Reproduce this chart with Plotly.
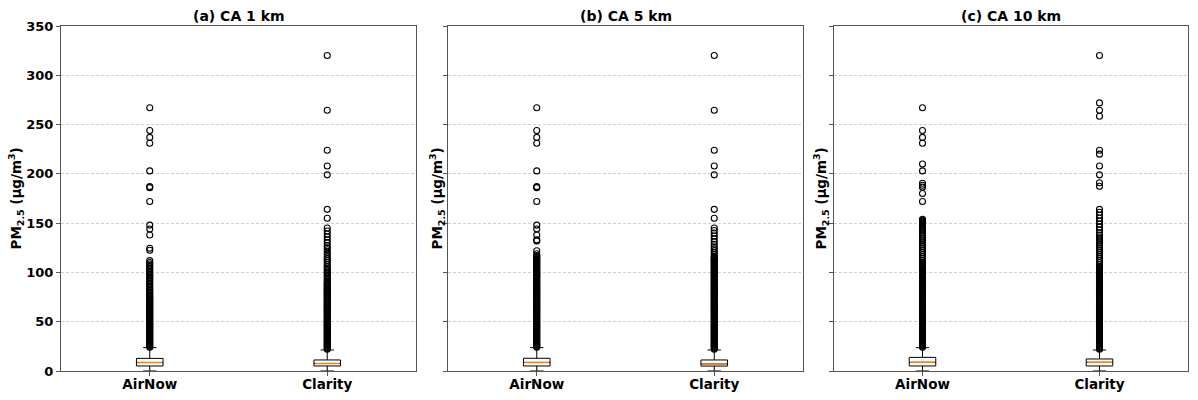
import plotly.graph_objects as go

# ---------------- data ----------------
panel_titles = ["(a) CA 1 km", "(b) CA 5 km", "(c) CA 10 km"]
categories = ["AirNow", "Clarity"]
y_ticks = [0, 50, 100, 150, 200, 250, 300, 350]

# box statistics per panel: [AirNow, Clarity]
q1_1km = [5.1, 5.1]
median_1km = [8.6, 7.6]
q3_1km = [12.8, 11.2]
whislo_1km = [0.0, 0.0]
whishi_1km = [23.7, 21.3]

q1_5km = [5.1, 5.0]
median_5km = [8.7, 7.2]
q3_5km = [12.9, 11.2]
whislo_5km = [0.0, 0.0]
whishi_5km = [23.7, 21.3]

q1_10km = [5.1, 5.1]
median_10km = [8.8, 8.8]
q3_10km = [13.8, 12.2]
whislo_10km = [0.0, 0.0]
whishi_10km = [23.7, 21.3]

# outliers (the dense columns are drawn as many points)
airnow_1km_out = [267, 244, 237, 231, 203, 187, 186, 172, 148, 144, 138, 124.5, 122.5, 112,
                  110, 108.5, 107, 105.5, 104, 102.5, 101, 99.5, 98, 96.5, 95, 93.5, 92, 90.5,
                  89, 87.5, 86, 84.5, 83, 81.5, 80, 78.5, 77,
                  76, 75, 74, 73, 72, 71, 70, 69, 68, 67, 66, 65, 64, 63, 62, 61, 60, 59, 58,
                  57, 56, 55, 54, 53, 52, 51, 50, 49, 48, 47, 46, 45, 44, 43, 42, 41, 40, 39,
                  38, 37, 36, 35, 34, 33, 32, 31, 30, 29, 28, 27, 26, 25, 24]
clarity_1km_out = [320, 264.5, 224, 208, 199, 164, 155, 145, 142, 139, 136, 133, 130, 127,
                   125, 123, 120.5, 118.5, 116, 114, 112, 110, 108, 106,
                   104.5, 103, 101.5, 100, 98.5, 97, 95.5, 94, 92.5, 91,
                   90, 89, 88, 87, 86, 85, 84, 83, 82, 81, 80, 79, 78, 77, 76, 75, 74, 73,
                   72, 71, 70, 69, 68, 67, 66, 65, 64, 63, 62, 61, 60, 59, 58, 57, 56, 55,
                   54, 53, 52, 51, 50, 49, 48, 47, 46, 45, 44, 43, 42, 41, 40, 39, 38, 37,
                   36, 35, 34, 33, 32, 31, 30, 29, 28, 27, 26, 25, 24, 23, 22]
airnow_5km_out = [267, 244, 237, 231, 203, 187, 186, 172, 148, 144, 138, 133, 132, 122, 119,
                  117, 116, 115, 114, 113, 112, 111, 110, 109, 108, 107, 106, 105, 104, 103,
                  102, 101, 100, 99, 98, 97, 96, 95, 94, 93, 92, 91, 90, 89, 88, 87, 86, 85,
                  84, 83, 82, 81, 80, 79, 78, 77, 76, 75, 74, 73, 72, 71, 70, 69, 68, 67,
                  66, 65, 64, 63, 62, 61, 60, 59, 58, 57, 56, 55, 54, 53, 52, 51, 50, 49,
                  48, 47, 46, 45, 44, 43, 42, 41, 40, 39, 38, 37, 36, 35, 34, 33, 32, 31,
                  30, 29, 28, 27, 26, 25, 24]
clarity_5km_out = [320, 264.5, 224, 208, 199, 164, 155, 145, 142.5, 140, 137, 134, 131,
                   128.5, 126, 124, 122, 120, 118,
                   116, 115, 114, 113, 112, 111, 110, 109, 108, 107, 106, 105, 104, 103,
                   102, 101, 100, 99, 98, 97, 96, 95, 94, 93, 92, 91, 90, 89, 88, 87, 86,
                   85, 84, 83, 82, 81, 80, 79, 78, 77, 76, 75, 74, 73, 72, 71, 70, 69, 68,
                   67, 66, 65, 64, 63, 62, 61, 60, 59, 58, 57, 56, 55, 54, 53, 52, 51, 50,
                   49, 48, 47, 46, 45, 44, 43, 42, 41, 40, 39, 38, 37, 36, 35, 34, 33, 32,
                   31, 30, 29, 28, 27, 26, 25, 24, 23, 22]
airnow_10km_out = [267, 244, 237, 231, 210, 203, 190.5, 188.5, 186.5, 180, 172,
                   154, 153, 152, 151, 150, 149, 148, 147, 146, 145, 144, 143, 142,
                   140, 138, 136, 134, 132, 130, 128, 126, 124, 122, 120, 118, 116, 114, 112,
                   110, 109, 108, 107, 106, 105, 104, 103, 102, 101, 100, 99, 98, 97, 96,
                   95, 94, 93, 92, 91, 90, 89, 88, 87, 86, 85, 84, 83, 82, 81, 80, 79, 78,
                   77, 76, 75, 74, 73, 72, 71, 70, 69, 68, 67, 66, 65, 64, 63, 62, 61, 60,
                   59, 58, 57, 56, 55, 54, 53, 52, 51, 50, 49, 48, 47, 46, 45, 44, 43, 42,
                   41, 40, 39, 38, 37, 36, 35, 34, 33, 32, 31, 30, 29, 28, 27, 26, 25, 24]
clarity_10km_out = [320, 272, 264.5, 258.5, 224, 220, 208, 199, 191, 187.5,
                    164, 161, 158, 155, 152, 149, 146, 143, 140, 138, 136, 134, 132, 130,
                    128, 126, 124, 122, 120, 118, 116, 114, 112, 110, 108, 106,
                    105, 104, 103, 102, 101, 100, 99, 98, 97, 96, 95, 94, 93, 92, 91, 90,
                    89, 88, 87, 86, 85, 84, 83, 82, 81, 80, 79, 78, 77, 76, 75, 74, 73, 72,
                    71, 70, 69, 68, 67, 66, 65, 64, 63, 62, 61, 60, 59, 58, 57, 56, 55, 54,
                    53, 52, 51, 50, 49, 48, 47, 46, 45, 44, 43, 42, 41, 40, 39, 38, 37, 36,
                    35, 34, 33, 32, 31, 30, 29, 28, 27, 26, 25, 24, 23, 22]

panels = [
    (q1_1km, median_1km, q3_1km, whislo_1km, whishi_1km, [airnow_1km_out, clarity_1km_out]),
    (q1_5km, median_5km, q3_5km, whislo_5km, whishi_5km, [airnow_5km_out, clarity_5km_out]),
    (q1_10km, median_10km, q3_10km, whislo_10km, whishi_10km, [airnow_10km_out, clarity_10km_out]),
]

# ---------------- layout constants ----------------
W, H = 1198, 400
x_domains = [[61 / W, 416 / W], [448 / W, 803 / W], [834 / W, 1188 / W]]
y_domain = [29 / H, 374 / H]
ylabel_x = [16 / W, 437 / W, 821 / W]
FONT = "DejaVu Sans"
SPINE = "#555555"
BOX_W = 0.15

fig = go.Figure()
positions = [1, 2]

for i, (q1, med, q3, lo, hi, outs) in enumerate(panels):
    xa = "x" if i == 0 else f"x{i+1}"
    ya = "y" if i == 0 else f"y{i+1}"
    # box + whiskers
    fig.add_trace(go.Box(
        x=positions, q1=q1, median=med, q3=q3, lowerfence=lo, upperfence=hi,
        width=BOX_W, whiskerwidth=0.5, boxpoints=False,
        line=dict(color="black", width=1), fillcolor="rgba(255,255,255,1)",
        xaxis=xa, yaxis=ya, showlegend=False))
    # orange median line (degenerate box)
    fig.add_trace(go.Box(
        x=positions, q1=med, median=med, q3=med, lowerfence=med, upperfence=med,
        width=BOX_W * 0.92, whiskerwidth=0, boxpoints=False,
        line=dict(color="#ff7f0e", width=1.5), fillcolor="rgba(0,0,0,0)",
        xaxis=xa, yaxis=ya, showlegend=False))
    # outliers
    for j, pts in enumerate(outs):
        fig.add_trace(go.Scatter(
            x=[positions[j]] * len(pts), y=pts, mode="markers",
            marker=dict(symbol="circle-open", size=6, color="black", line=dict(width=1.1)),
            xaxis=xa, yaxis=ya, showlegend=False, hoverinfo="y"))

layout = dict(
    template="none",
    width=W, height=H, margin=dict(l=0, r=0, t=0, b=0, pad=0, autoexpand=False),
    paper_bgcolor="white", plot_bgcolor="white",
    boxmode="overlay", font=dict(family=FONT, color="black"),
)
annotations = []
for i in range(3):
    sfx = "" if i == 0 else str(i + 1)
    layout["xaxis" + sfx] = dict(
        domain=x_domains[i], range=[0.5, 2.5], anchor="y" + sfx, automargin=False,
        tickvals=positions, ticktext=categories,
        tickfont=dict(family=FONT, size=13.5, weight="bold", color="black"),
        ticks="outside", ticklen=4, tickcolor=SPINE, ticklabelstandoff=-3,
        showline=True, linecolor=SPINE, linewidth=1.2, mirror=True,
        showgrid=False, zeroline=False)
    layout["yaxis" + sfx] = dict(
        domain=y_domain, range=[0, 350], anchor="x" + sfx, automargin=False,
        tickvals=y_ticks, showticklabels=(i == 0),
        tickfont=dict(family=FONT, size=13, weight="bold", color="black"),
        ticks="outside", ticklen=4, tickcolor=SPINE,
        showline=True, linecolor=SPINE, linewidth=1.2, mirror=True,
        showgrid=True, gridcolor="#cfcfcf", gridwidth=0.8, griddash="3px,2px",
        zeroline=False)
    annotations.append(dict(
        text="<b>" + panel_titles[i] + "</b>", xref="paper", yref="paper",
        x=(x_domains[i][0] + x_domains[i][1]) / 2, y=1 - 16 / H,
        xanchor="center", yanchor="middle", showarrow=False,
        font=dict(family=FONT, size=14, color="black")))
    annotations.append(dict(
        text="<b>PM<sub>2.5</sub> (μg/m<sup>3</sup>)</b>", xref="paper", yref="paper",
        x=ylabel_x[i], y=(H - 198.5) / H, textangle=-90,
        xanchor="center", yanchor="middle", showarrow=False,
        font=dict(family=FONT, size=13.5, color="black")))
layout["annotations"] = annotations
fig.update_layout(**layout)

fig.write_html("out.html")
